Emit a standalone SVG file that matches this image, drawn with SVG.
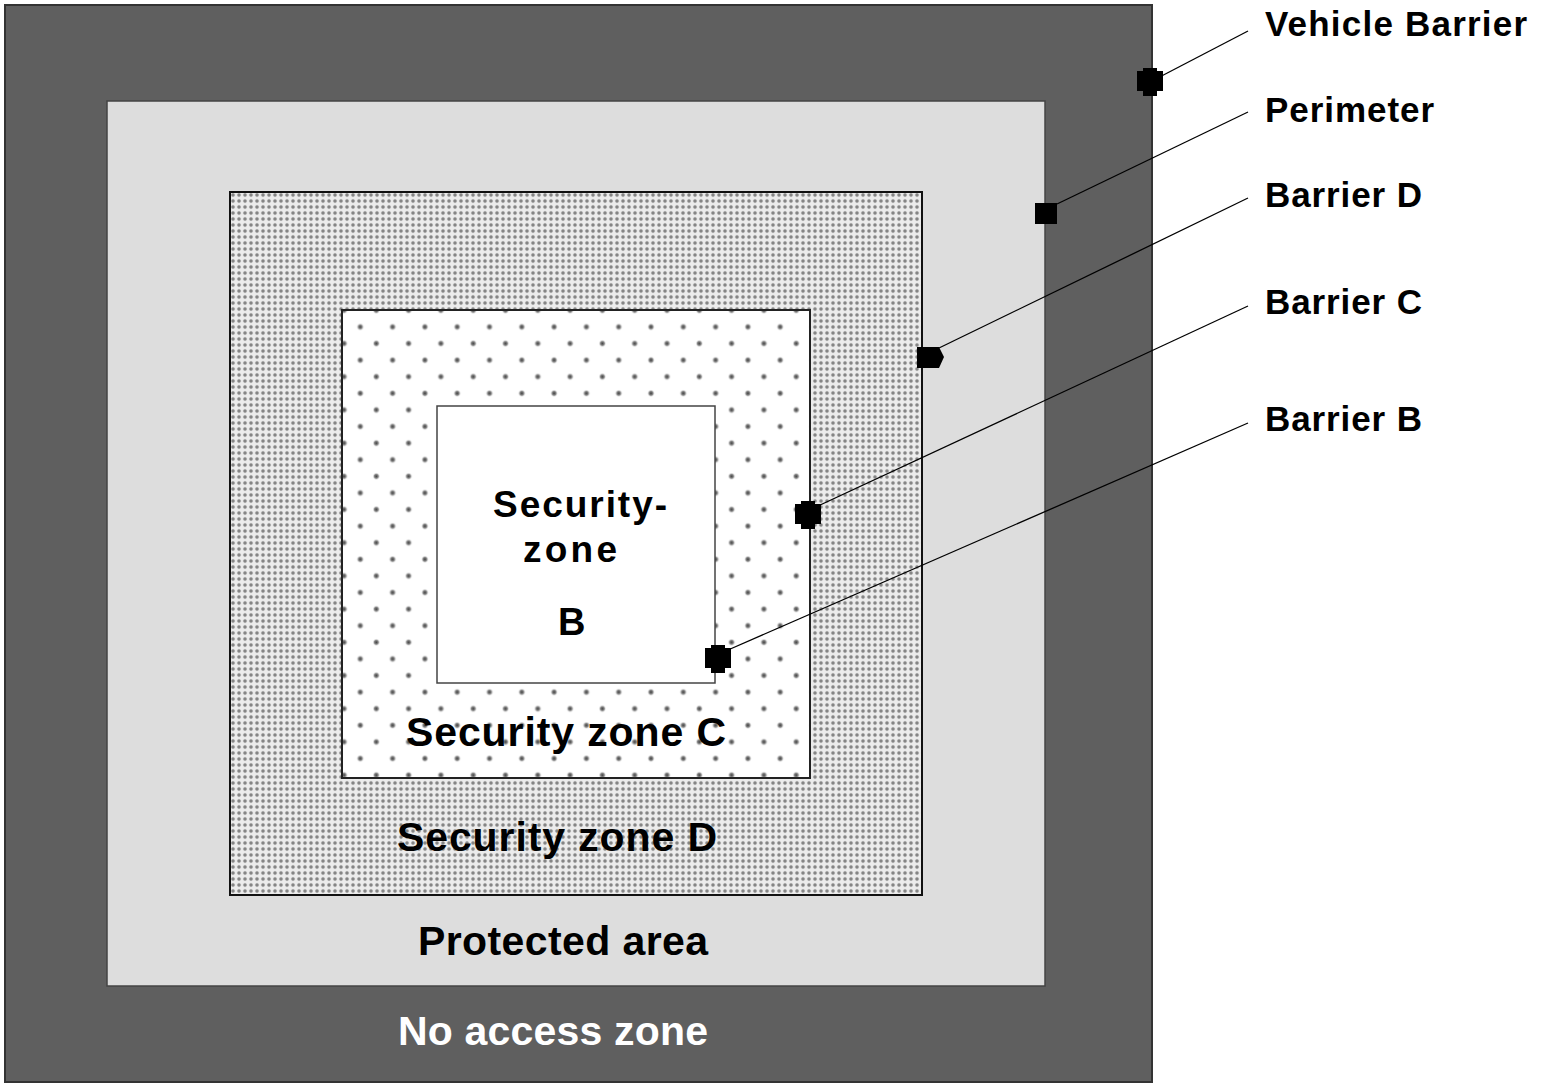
<svg xmlns="http://www.w3.org/2000/svg" width="1552" height="1088" viewBox="0 0 1552 1088">
<style>
.lbl{font-family:"Liberation Sans",Arial,sans-serif;font-weight:bold;font-size:35px;fill:#000}
.zl{font-family:"Liberation Sans",Arial,sans-serif;font-weight:bold;font-size:41px;fill:#000}
.lead{stroke:#000;stroke-width:1.3;fill:none}
.mk{fill:#000}
</style>
<defs>
<radialGradient id="dotD">
<stop offset="0" stop-color="#6e6e6e"/>
<stop offset="0.6" stop-color="#999"/>
<stop offset="1" stop-color="#dcdcdc"/>
</radialGradient>
<radialGradient id="dotC">
<stop offset="0" stop-color="#404040"/>
<stop offset="0.5" stop-color="#8a8a8a"/>
<stop offset="1" stop-color="#ffffff" stop-opacity="0"/>
</radialGradient>
<pattern id="patD" patternUnits="userSpaceOnUse" x="230" y="192" width="6" height="6">
<rect width="6" height="6" fill="#ececec"/>
<rect x="0.8" y="0.8" width="4.4" height="4.4" rx="1.8" fill="url(#dotD)"/>
</pattern>
<pattern id="patC" patternUnits="userSpaceOnUse" x="328" y="310" width="32.3" height="33.2">
<rect width="32.3" height="33.2" fill="#fff"/>
<circle cx="16" cy="0.3" r="4" fill="url(#dotC)"/>
<circle cx="16" cy="33.5" r="4" fill="url(#dotC)"/>
<circle cx="0" cy="16.9" r="4" fill="url(#dotC)"/>
<circle cx="32.3" cy="16.9" r="4" fill="url(#dotC)"/>
</pattern>
<polygon id="oct" points="-7,-14 7,-14 7,-11 13,-11 13,9 7,9 7,14 -7,14 -7,9 -13,9 -13,-11 -7,-11"/>
</defs>

<g id="no-access-zone">
<rect x="5" y="5" width="1147" height="1077" fill="#5f5f5f" stroke="#333" stroke-width="2"/>
<text class="zl" x="398" y="1045" style="fill:#fff" textLength="310" lengthAdjust="spacing">No access zone</text>
</g>
<g id="protected-area">
<rect x="107" y="101" width="938" height="885" fill="#dddddd" stroke="#444" stroke-width="1.5"/>
<text class="zl" x="418" y="955" textLength="290" lengthAdjust="spacing">Protected area</text>
</g>
<g id="security-zone-d">
<rect x="230" y="192" width="692" height="703" fill="url(#patD)" stroke="#111" stroke-width="2"/>
<text class="zl" x="397" y="851" textLength="320" lengthAdjust="spacing">Security zone D</text>
</g>
<g id="security-zone-c">
<rect x="342" y="310" width="468" height="468" fill="url(#patC)" stroke="#222" stroke-width="2"/>
<text class="zl" x="406" y="746" textLength="320" lengthAdjust="spacing">Security zone C</text>
</g>
<g id="security-zone-b">
<rect x="437" y="406" width="278" height="277" fill="#fff" stroke="#444" stroke-width="1.5"/>
<text class="lbl" x="493" y="517" style="font-size:37px" textLength="174" lengthAdjust="spacing">Security-</text>
<text class="lbl" x="523" y="562" style="font-size:37px" textLength="94" lengthAdjust="spacing">zone</text>
<text class="lbl" x="558" y="635" style="font-size:38px" textLength="30" lengthAdjust="spacing">B</text>
</g>

<g id="connectors">
<line class="lead" x1="1150" y1="82" x2="1248" y2="31"/>
<line class="lead" x1="1057" y1="204" x2="1248" y2="112"/>
<line class="lead" x1="939" y1="348" x2="1248" y2="198"/>
<line class="lead" x1="818" y1="506" x2="1248" y2="306"/>
<line class="lead" x1="728" y1="650" x2="1248" y2="423"/>
</g>

<g id="vehicle-barrier">
<use href="#oct" class="mk" x="1150" y="82"/>
<text class="lbl" x="1265" y="36" textLength="262" lengthAdjust="spacing">Vehicle Barrier</text>
</g>
<g id="perimeter">
<rect class="mk" x="1035" y="203" width="22" height="21"/>
<text class="lbl" x="1265" y="122" textLength="169" lengthAdjust="spacing">Perimeter</text>
</g>
<g id="barrier-d">
<polygon class="mk" points="917,347 939,347 944,357 939,368 917,368"/>
<text class="lbl" x="1265" y="207" textLength="157" lengthAdjust="spacing">Barrier D</text>
</g>
<g id="barrier-c">
<use href="#oct" class="mk" x="808" y="515"/>
<text class="lbl" x="1265" y="314" textLength="157" lengthAdjust="spacing">Barrier C</text>
</g>
<g id="barrier-b">
<use href="#oct" class="mk" x="718" y="659"/>
<text class="lbl" x="1265" y="431" textLength="157" lengthAdjust="spacing">Barrier B</text>
</g>
</svg>
